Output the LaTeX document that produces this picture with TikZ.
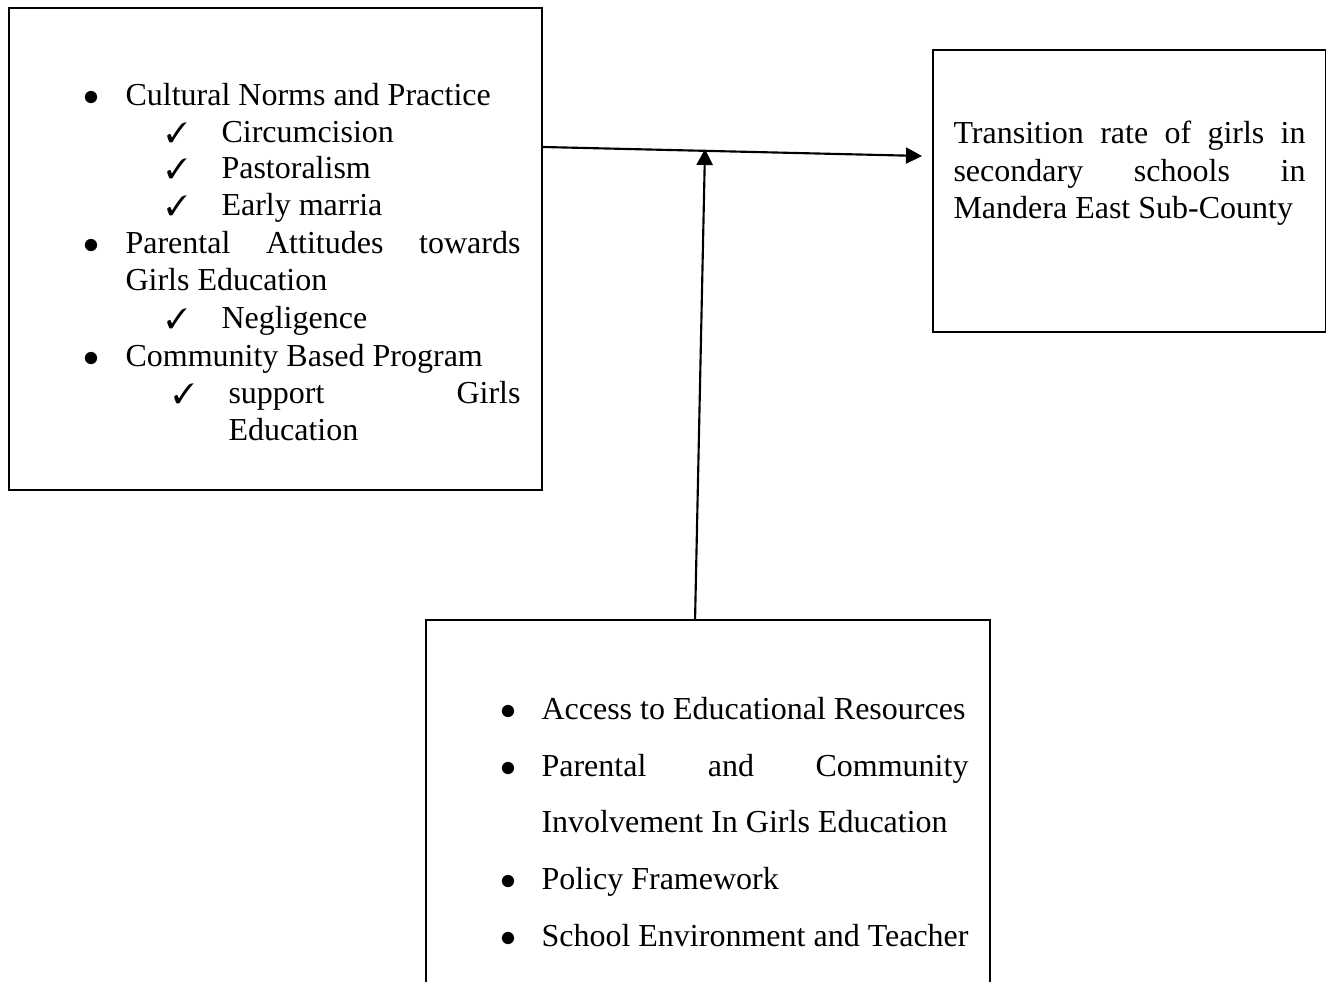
\documentclass[tikz,border=0pt]{standalone}
\usepackage{amssymb}
\usepackage{pifont}
\usepackage{fontspec}
\setmainfont{Liberation Serif}
\usetikzlibrary{arrows.meta, calc}

% justified single line of given width
\newcommand{\spreadline}[2]{\makebox[#1][s]{#2}}

\begin{document}
\begin{tikzpicture}[x=0.375pt, y=-0.375pt,
  box/.style={draw, line width=0.8pt, inner sep=0pt, anchor=north west},
  txt/.style={anchor=base west, inner sep=0pt, font=\fontsize{12}{14}\selectfont},
  bul/.style={anchor=base, inner sep=0pt, font=\fontsize{12}{14}\selectfont},
  tick/.style={anchor=base, inner sep=0pt, font=\fontsize{10.5}{14}\selectfont},
  arr/.style={-{Triangle[length=6pt,width=6pt]}, line width=0.8pt}
]
\useasboundingbox (0,0) rectangle (1326,982);

% Boxes
\node[box, minimum width=199.9pt, minimum height=180.75pt] (cause) at (8,7) {};
\node[box, minimum width=147.4pt, minimum height=105.75pt] (effect) at (932,49) {};
\node[box, minimum width=211.5pt, minimum height=150pt] (moderator) at (425,619) {};

% Left box -- independent variables
\foreach \y in {106,254,367}{
  \node[bul] (cb\y) at (91,\y) {$\bullet$};
}
\foreach \y/\t [count=\n] in {106/{Cultural Norms and Practice},
    254/{\spreadline{148.1pt}{Parental Attitudes towards}},
    291/{Girls Education}, 367/{Community Based Program}}{
  \node[txt] (c\n) at (125,\y) {\t};
}
\foreach \y/\t [count=\n] in {143/Circumcision, 179/Pastoralism,
    216/{Early marria}, 329/Negligence}{
  \node[tick] (ck\n) at (177,\y) {\ding{51}};
  \node[txt] (s\n) at (221,\y) {\t};
}
\node[tick] (ck5) at (184,404) {\ding{51}};
\node[txt] (s5) at (228,404) {\spreadline{109.5pt}{support Girls}};
\node[txt] (s6) at (228,441) {Education};

% Right box -- dependent variable
\node[txt] (e1) at (953,144) {\spreadline{132pt}{Transition rate of girls in}};
\node[txt] (e2) at (953,182) {\spreadline{132pt}{secondary schools in}};
\node[txt] (e3) at (953,219) {Mandera East Sub-County};

% Bottom box -- intervening variables
\foreach \y in {719,776,889,946}{
  \node[bul] (mb\y) at (508,\y) {$\bullet$};
}
\foreach \y/\t [count=\n] in {719/{Access to Educational Resources},
    776/{\spreadline{160.1pt}{Parental and Community}},
    832/{Involvement In Girls Education},
    889/{Policy Framework},
    946/{School Environment and Teacher}}{
  \node[txt] (m\n) at (541,\y) {\t};
}

% Arrows
\coordinate (tip) at (922,156);
\coordinate (join) at (705,149);
\draw[arr] ($(cause.north east)+(0,140)$) -- (tip);
\draw[arr] ($(moderator.north)+(-13,0)$) -- (join);
\end{tikzpicture}
\end{document}
